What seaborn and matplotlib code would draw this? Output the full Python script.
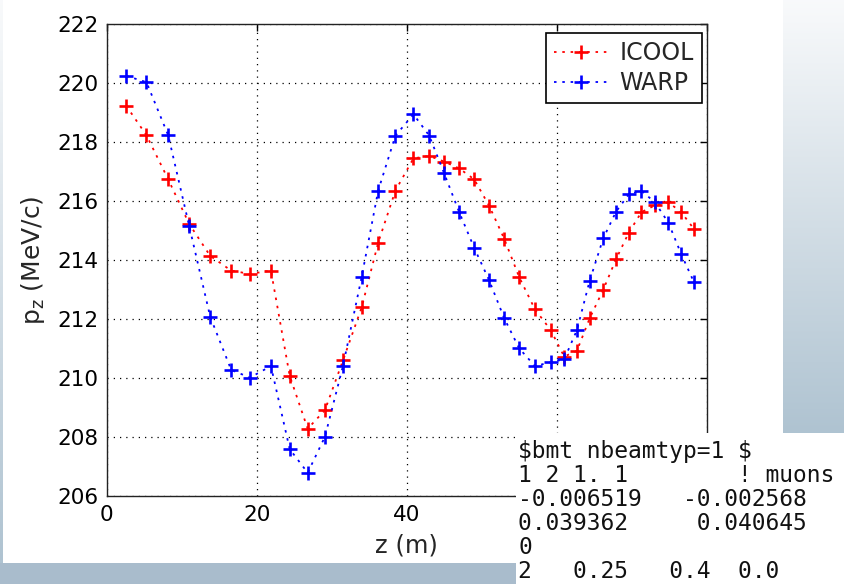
import numpy as np
import pandas as pd
import seaborn as sns
import matplotlib
matplotlib.use("Agg")
import matplotlib.pyplot as plt
from matplotlib.patches import Rectangle

# Longitudinal momentum along the channel for two codes
z_m = [2.6, 5.3, 8.2, 11.0, 13.8, 16.6, 19.1, 21.9, 24.4, 26.8, 29.1, 31.5,
       34.0, 36.2, 38.5, 40.9, 43.0, 45.0, 47.0, 49.0, 51.0, 53.0, 55.0, 57.1,
       59.2, 61.0, 62.7, 64.4, 66.2, 67.9, 69.6, 71.3, 73.1, 74.9, 76.6, 78.3]
pz_icool = [219.22, 218.22, 216.73, 215.22, 214.14, 213.64, 213.53, 213.64,
            210.08, 208.29, 208.92, 210.60, 212.40, 214.59, 216.35, 217.44,
            217.52, 217.33, 217.10, 216.73, 215.83, 214.72, 213.42, 212.33,
            211.63, 210.73, 210.93, 212.03, 212.99, 214.02, 214.92, 215.62,
            215.85, 215.95, 215.62, 215.05]
pz_warp = [220.23, 220.02, 218.22, 215.15, 212.08, 210.28, 210.02, 210.41,
           207.60, 206.80, 208.02, 210.41, 213.43, 216.35, 218.21, 218.93,
           218.21, 216.93, 215.62, 214.41, 213.31, 212.03, 211.01, 210.41,
           210.54, 210.64, 211.63, 213.30, 214.73, 215.63, 216.22, 216.34,
           215.95, 215.26, 214.20, 213.25]
series_names = ["ICOOL", "WARP"]
series_colors = ["#ff0000", "#0000ff"]
x_ticks = [0, 20, 40, 60, 80]
y_ticks = [206, 208, 210, 212, 214, 216, 218, 220, 222]

# Beam definition block shown beside the plot
namelist_lines = [
    "$bmt nbeamtyp=1 $",
    "1 2 1. 1        ! muons",
    "-0.006519   -0.002568",
    "0.039362     0.040645",
    "0",
    "2   0.25   0.4  0.0",
]

df = pd.concat([
    pd.DataFrame({"z": z_m, "pz": pz_icool, "code": series_names[0]}),
    pd.DataFrame({"z": z_m, "pz": pz_warp, "code": series_names[1]}),
], ignore_index=True)

sns.set_theme(style="white")
plt.rcParams["font.family"] = ["DejaVu Sans"]
plt.rcParams["mathtext.fontset"] = "dejavusans"

W, H = 844, 584
fig = plt.figure(figsize=(W / 100, H / 100), dpi=100)
fig.patch.set_facecolor("white")

# slide decoration: gradient strips and bottom band
top_c = np.array([0.975, 0.98, 0.985])
bot_c = np.array([0.686, 0.765, 0.820])
def vgrad(h, w):
    t = np.linspace(0, 1, h)[:, None, None]
    return np.tile(top_c * (1 - t) + bot_c * t, (1, w, 1))
fig.figimage(vgrad(433, 61), xo=783, yo=H - 433, origin="upper", zorder=-5)
fig.figimage(vgrad(563, 3), xo=0, yo=H - 563, origin="upper", zorder=-5)
fig.patches.append(Rectangle((0, 0), 516 / W, 21 / H, transform=fig.transFigure,
                             facecolor="#a9bccc", edgecolor="none", zorder=-4))

ax = fig.add_axes([106.7 / W, (H - 496.4) / H, 600 / W, 472.8 / H])
ax.set_zorder(1)
ax.set_facecolor("white")

dots = (1.4, 3.2)
sns.lineplot(data=df, x="z", y="pz", hue="code", style="code", ax=ax,
             palette=series_colors, markers=["+", "+"], dashes=[dots, dots],
             linewidth=1.3, markersize=10, markeredgewidth=1.9,
             errorbar=None, sort=False)

# "+" markers take the colour of their series
for ln in ax.lines:
    ln.set_markeredgecolor(ln.get_color())
    ln.set_markeredgewidth(1.9)

ax.set_xlim(0, 80)
ax.set_ylim(206, 222)
ax.set_xticks(x_ticks)
ax.set_yticks(y_ticks)
ax.grid(True, color="black", linestyle=(0, (1, 4)), linewidth=0.9)
ax.tick_params(direction="in", length=5, width=1, colors="black",
               labelsize=15.5, top=True, right=True, pad=6)
for s in ax.spines.values():
    s.set_visible(True)
    s.set_color("#222222")
    s.set_linewidth(1.0)

# the namelist block sits over the right end of the z axis
fig.canvas.draw()
for val, lab in zip(x_ticks, ax.get_xticklabels()):
    if val > 50:
        lab.set_visible(False)

ax.set_xlabel("z (m)", fontsize=17.5, labelpad=6)
ax.set_ylabel(r"$\mathregular{p_z}$ (MeV/c)", fontsize=18, labelpad=7)

handles, labels = ax.get_legend_handles_labels()
for h in handles:
    h.set_markeredgecolor(h.get_color())
    h.set_markeredgewidth(1.9)
    h.set_markersize(10)
leg = ax.legend(handles, labels, loc="upper right", bbox_to_anchor=(0.992, 0.98),
                borderaxespad=0, fontsize=17, frameon=True, fancybox=False,
                framealpha=1, edgecolor="black", handlelength=2.3,
                handletextpad=0.45, labelspacing=0.25, borderpad=0.35)
leg.get_frame().set_linewidth(1.2)

# white block with the namelist text over the lower-right corner
fig.patches.append(Rectangle((516 / W, 0), (W - 516) / W, (H - 433) / H,
                             transform=fig.transFigure, facecolor="white",
                             edgecolor="none", zorder=5))
for i, line in enumerate(namelist_lines):
    fig.text(518 / W, (H - (458 + 24 * i)) / H, line, fontsize=16.5,
             family="DejaVu Sans Mono", color="#111111", va="baseline",
             ha="left", zorder=6, parse_math=False)

fig.savefig("out.png", dpi=100)
